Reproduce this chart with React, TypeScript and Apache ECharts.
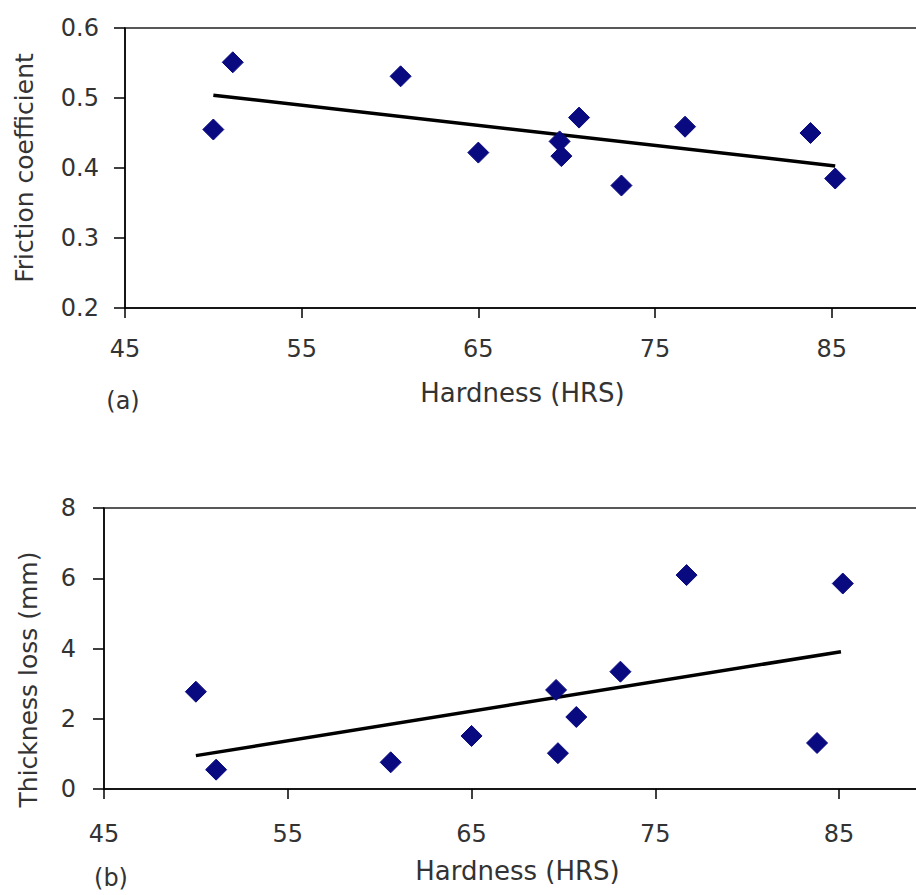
import React, { useEffect, useRef } from "react";
import * as echarts from "echarts";

// Hardness values (HRS), shared by both panels
const hardness = [50.0, 51.1, 60.6, 65.0, 69.6, 69.7, 70.7, 73.1, 76.7, 83.8, 85.2];
// Panel (a): friction coefficient
const friction = [0.455, 0.551, 0.531, 0.422, 0.438, 0.417, 0.472, 0.375, 0.459, 0.45, 0.385];
// Panel (b): thickness loss (mm)
const thicknessLoss = [2.77, 0.55, 0.76, 1.51, 2.82, 1.02, 2.05, 3.34, 6.09, 1.31, 5.85];

// Trend lines (end points)
const frictionTrendX = [50.0, 85.2];
const frictionTrendY = [0.504, 0.403];
const lossTrendX = [50.0, 85.1];
const lossTrendY = [0.95, 3.91];

const xTicks = [45, 55, 65, 75, 85];
const frictionTicks = [0.2, 0.3, 0.4, 0.5, 0.6];
const lossTicks = [0, 2, 4, 6, 8];

const FONT = "DejaVu Sans";
const TEXT = "#333";

export default function App() {
  const ref = useRef<HTMLDivElement>(null);

  useEffect(() => {
    if (!ref.current) return;
    const chart = echarts.init(ref.current, undefined, { renderer: "svg" });

    const xAxisBase = (gridIndex: number, labelMargin: number, nameGap: number) => ({
      type: "value",
      gridIndex,
      min: xTicks[0],
      max: 90,
      interval: xTicks[1] - xTicks[0],
      name: "Hardness (HRS)",
      nameLocation: "middle",
      nameGap,
      nameTextStyle: { fontFamily: FONT, fontSize: 26, color: TEXT },
      axisLine: { show: true, lineStyle: { color: "#000", width: 1.5 } },
      axisTick: { show: true, length: 10, lineStyle: { color: "#000", width: 1.5 } },
      axisLabel: {
        margin: labelMargin,
        fontFamily: FONT,
        fontSize: 24,
        color: TEXT,
        showMaxLabel: false,
        formatter: (v: number) => (xTicks.includes(v) ? String(v) : ""),
      },
      splitLine: { show: false },
    });

    const scatterSeries = (xi: number, xs: number[], ys: number[]) => ({
      type: "scatter",
      xAxisIndex: xi,
      yAxisIndex: xi,
      symbol: "diamond",
      symbolSize: [21, 21],
      itemStyle: { color: "#0a0a80", borderColor: "#0a0a80", opacity: 1 },
      data: xs.map((x, i) => [x, ys[i]]),
      z: 3,
    });

    const trendSeries = (xi: number, xs: number[], ys: number[]) => ({
      type: "line",
      xAxisIndex: xi,
      yAxisIndex: xi,
      showSymbol: false,
      symbol: "none",
      lineStyle: { color: "#000", width: 3.5 },
      data: xs.map((x, i) => [x, ys[i]]),
      z: 2,
    });

    chart.setOption({
      animation: false,
      backgroundColor: "#fff",
      grid: [
        {
          left: 125, top: 28, width: 795, height: 280,
          outerBoundsMode: "none", containLabel: false,
          show: true, borderColor: "#222", borderWidth: 1.5, backgroundColor: "transparent",
        },
        {
          left: 104, top: 508, width: 827, height: 281,
          outerBoundsMode: "none", containLabel: false,
          show: true, borderColor: "#222", borderWidth: 1.5, backgroundColor: "transparent",
        },
      ],
      xAxis: [xAxisBase(0, 29, 72), xAxisBase(1, 33, 69)],
      yAxis: [
        {
          type: "value",
          gridIndex: 0,
          min: frictionTicks[0],
          max: frictionTicks[frictionTicks.length - 1],
          interval: 0.1,
          name: "Friction coefficient",
          nameLocation: "middle",
          nameGap: 88,
          nameTextStyle: { fontFamily: FONT, fontSize: 25, color: TEXT },
          axisLine: { show: true, lineStyle: { color: "#000", width: 1.5 } },
          axisTick: { show: true, length: 11, lineStyle: { color: "#000", width: 1.5 } },
          axisLabel: {
            margin: 26,
            fontFamily: FONT,
            fontSize: 24,
            color: TEXT,
            formatter: (v: number) => v.toFixed(1),
          },
          splitLine: { show: false },
        },
        {
          type: "value",
          gridIndex: 1,
          min: lossTicks[0],
          max: lossTicks[lossTicks.length - 1],
          interval: 2,
          name: "Thickness loss (mm)",
          nameLocation: "middle",
          nameGap: 63,
          nameTextStyle: { fontFamily: FONT, fontSize: 25, color: TEXT, padding: [0, 62, 0, 0] },
          axisLine: { show: true, lineStyle: { color: "#000", width: 1.5 } },
          axisTick: { show: true, length: 11, lineStyle: { color: "#000", width: 1.5 } },
          axisLabel: {
            margin: 28,
            fontFamily: FONT,
            fontSize: 24,
            color: TEXT,
          },
          splitLine: { show: false },
        },
      ],
      series: [
        trendSeries(0, frictionTrendX, frictionTrendY),
        scatterSeries(0, hardness, friction),
        trendSeries(1, lossTrendX, lossTrendY),
        scatterSeries(1, hardness, thicknessLoss),
      ],
      graphic: [
        {
          type: "text",
          x: 123,
          y: 401,
          style: { text: "(a)", fontFamily: FONT, fontSize: 24, fill: TEXT, align: "center", verticalAlign: "middle" },
        },
        {
          type: "text",
          x: 111,
          y: 878,
          style: { text: "(b)", fontFamily: FONT, fontSize: 24, fill: TEXT, align: "center", verticalAlign: "middle" },
        },
      ],
    });

    return () => chart.dispose();
  }, []);

  return (
    <div
      ref={ref}
      style={{ position: "absolute", left: 0, top: 0, width: 916, height: 895, overflow: "hidden" }}
    />
  );
}
